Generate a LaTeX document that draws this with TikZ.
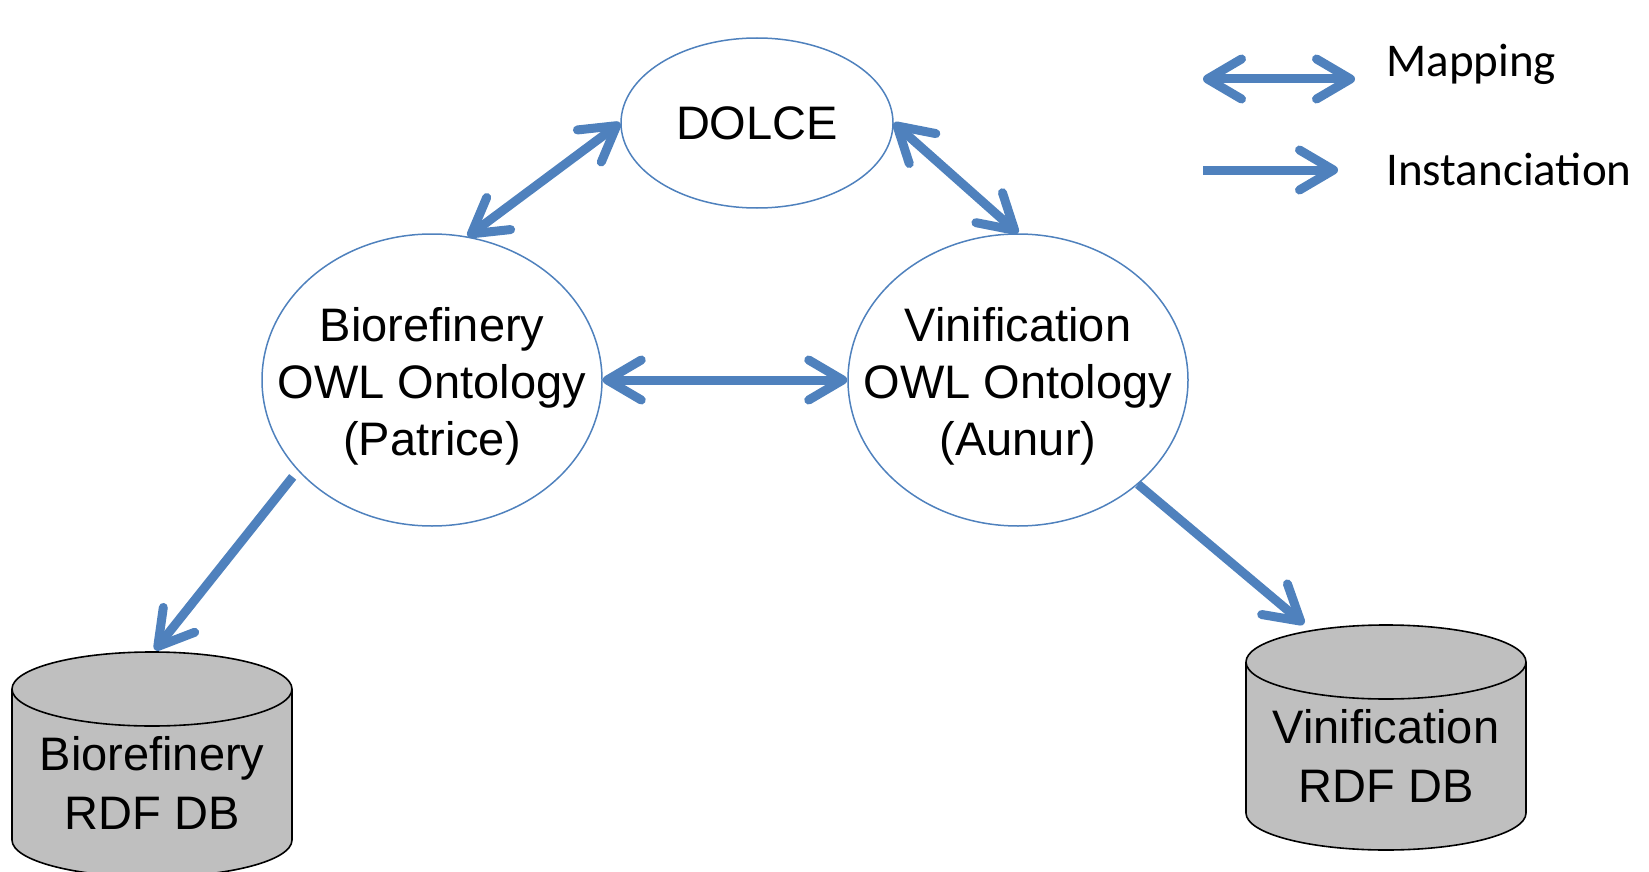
\documentclass[tikz,border=0pt]{standalone}
\usepackage{fontspec}
\setmainfont{Liberation Sans}
\newfontfamily\legendfont{Carlito}
\usetikzlibrary{shapes.geometric,arrows.meta}

\definecolor{mapblue}{RGB}{79,129,189}
\definecolor{dbgray}{RGB}{191,191,191}

\tikzset{
  onto/.style={ellipse,draw=mapblue,line width=0.75pt,inner sep=0pt},
  ontotext/.style={align=center,inner sep=0pt,font=\fontsize{23.5}{28.5}\selectfont},
  dbtext/.style={align=center,inner sep=0pt,font=\fontsize{23.5}{29.5}\selectfont},
  legtext/.style={anchor=base west,inner sep=0pt,font=\legendfont\fontsize{23.5}{28}\selectfont},
  mapping/.style={mapblue,line width=4.5pt,
    {Straight Barb[length=17pt,width=20pt,round]}-{Straight Barb[length=17pt,width=20pt,round]}},
  inst/.style={mapblue,line width=4.5pt,-{Straight Barb[length=17pt,width=20pt,round]}}
}

\begin{document}
\begin{tikzpicture}[x=0.5pt,y=-0.5pt]
\useasboundingbox (0,0) rectangle (1649,872);

% the ontologies
\node[onto,minimum width=136pt,minimum height=85pt,
  label={[ontotext]center:DOLCE}] (dolce) at (757,123) {};
\node[onto,minimum width=170pt,minimum height=146pt,
  label={[ontotext,yshift=-3pt]center:Biorefinery\\OWL Ontology\\(Patrice)}] (bio) at (432,380) {};
\node[onto,minimum width=170pt,minimum height=146pt,
  label={[ontotext,yshift=-3pt]center:Vinification\\OWL Ontology\\(Aunur)}] (vini) at (1018,380) {};

% the databases (cylinders)
\foreach \n/\cx/\ty/\txt in {biodb/152/652/{Biorefinery\\RDF DB},vinidb/1386/625/{Vinification\\RDF DB}}
{
  \filldraw[fill=dbgray,draw=black,line width=0.8pt]
    (\cx-140,\ty+37) -- (\cx-140,\ty+188) arc (180:360:70pt and 18.5pt)
    -- (\cx+140,\ty+37) arc (0:180:70pt and 18.5pt) -- cycle;
  \draw[line width=0.8pt] (\cx-140,\ty+37) arc (180:360:70pt and 18.5pt);
  \node[dbtext] (\n) at (\cx,\ty+131) {\txt};
}
\coordinate (biodb in) at (155,650);
\coordinate (vinidb in) at (1304,624);

% mappings between ontologies
\draw[mapping] (bio.76) -- (dolce.west);
\draw[mapping] (dolce.east) -- (vini.north);
\draw[mapping] (bio.east) -- (vini.west);

% instanciation of the databases
\draw[inst,shorten <=4pt] (bio.214) -- (biodb in);
\draw[inst] (vini.319) -- (vinidb in);

% legend
\coordinate (map a) at (1203,79);
\coordinate (map b) at (1355,79);
\coordinate (inst a) at (1203,170);
\coordinate (inst b) at (1338,170);
\draw[mapping] (map a) -- (map b);
\draw[inst] (inst a) -- (inst b);
\node[legtext] (maplabel) at (1386,77) {Mapping};
\node[legtext] (instlabel) at (1386,185) {Instanciation};
\end{tikzpicture}
\end{document}
